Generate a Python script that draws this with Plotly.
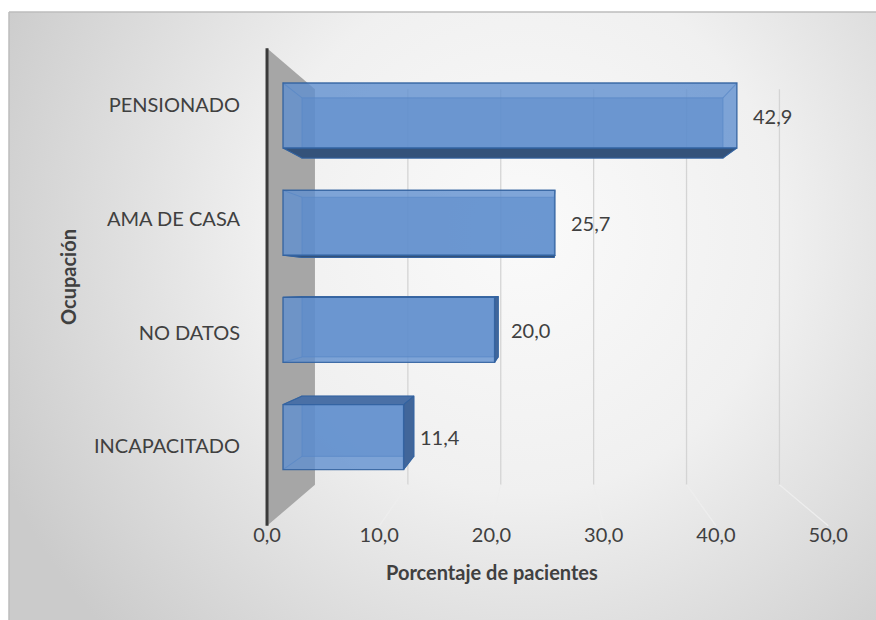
import base64
import plotly.graph_objects as go

# ---- data -------------------------------------------------------------
categories = ["PENSIONADO", "AMA DE CASA", "NO DATOS", "INCAPACITADO"]
values = [42.9, 25.7, 20.0, 11.4]
x_ticks = [0, 10, 20, 30, 40, 50]
x_title = "Porcentaje de pacientes"
y_title = "Ocupación"

# ---- canvas / 3-D look geometry --------------------------------------
W, H = 876, 620
FONT = "Lato"
TXT = "#404040"

# front plane of the bars: pixel mapping of the main (hidden) axes
X0_PX, X_SCALE = 283.0, 10.58
Y0_PX, Y_SCALE = 115.5, 107.2
VP_PX = (545.0, 287.0)           # vanishing point of the perspective
VX = (VP_PX[0] - X0_PX) / X_SCALE
VY = (VP_PX[1] - Y0_PX) / Y_SCALE

S_EDGE = 1.061    # front edge of floor / side wall
S_BACK = 0.9275   # back face of the bars
S_WALL = 0.878    # back wall
BAR_H = 0.606
WALL_TOP, WALL_BOT = -0.5, 3.7
X_MAX = x_ticks[-1]


def proj(x, y, s):
    return VX + s * (x - VX), VY + s * (y - VY)


def to_px(x, y):
    return X0_PX + X_SCALE * x, Y0_PX + Y_SCALE * y


def path(pts):
    return "M " + " L ".join(f"{x:.4f},{y:.4f}" for x, y in pts) + " Z"


def px2paper_x(px):
    return px / W


def px2paper_y(py):
    return 1 - py / H


shapes = []

# white page outside the chart area
shapes.append(dict(type="rect", xref="paper", yref="paper", x0=0, x1=1,
                   y0=px2paper_y(12), y1=1.01, fillcolor="white", line=dict(width=0),
                   layer="below"))
shapes.append(dict(type="rect", xref="paper", yref="paper", x0=-0.01, x1=px2paper_x(9),
                   y0=-0.01, y1=1, fillcolor="white", line=dict(width=0), layer="below"))

# chart-area frame
shapes.append(dict(type="line", xref="paper", yref="paper",
                   x0=px2paper_x(9), y0=px2paper_y(12), x1=1, y1=px2paper_y(12),
                   line=dict(color="#bdbdbd", width=1.5), layer="below"))
shapes.append(dict(type="line", xref="paper", yref="paper",
                   x0=px2paper_x(9), y0=px2paper_y(12), x1=px2paper_x(9), y1=0,
                   line=dict(color="#bdbdbd", width=1.5), layer="below"))

# side wall
wall = [proj(0, WALL_TOP, S_EDGE), proj(0, WALL_TOP, S_WALL),
        proj(0, WALL_BOT, S_WALL), proj(0, WALL_BOT, S_EDGE)]
shapes.append(dict(type="path", xref="x", yref="y", path=path(wall),
                   fillcolor="#a6a6a6", line=dict(width=0), layer="below"))

# back-wall and floor gridlines
for t in x_ticks[1:]:
    a = proj(t, WALL_TOP, S_WALL)
    b = proj(t, WALL_BOT, S_WALL)
    c = proj(t, WALL_BOT, S_EDGE)
    shapes.append(dict(type="line", xref="x", yref="y", x0=a[0], y0=a[1], x1=b[0], y1=b[1],
                       line=dict(color="#d4d4d4", width=1.3), layer="below"))
    shapes.append(dict(type="line", xref="x", yref="y", x0=b[0], y0=b[1], x1=c[0], y1=c[1],
                       line=dict(color="#eeeeee", width=1.3), layer="below"))

# front edge of the side wall
a = proj(0, WALL_TOP, S_EDGE)
b = proj(0, WALL_BOT, S_EDGE)
shapes.append(dict(type="line", xref="x", yref="y", x0=a[0], y0=a[1], x1=b[0], y1=b[1],
                   line=dict(color="#3a3a3a", width=3), layer="below"))

EDGE = "rgba(50,98,160,0.9)"
positions = list(range(len(categories)))

# depth faces of each bar (front face is the bar trace itself)
for yi, v in zip(positions, values):
    yt, yb = yi - BAR_H / 2, yi + BAR_H / 2
    back = [proj(0, yt, S_BACK), proj(v, yt, S_BACK), proj(v, yb, S_BACK), proj(0, yb, S_BACK)]
    front = [(0, yt), (v, yt), (v, yb), (0, yb)]
    shapes.append(dict(type="path", xref="x", yref="y", path=path(back),
                       fillcolor="rgba(72,120,182,0.55)",
                       line=dict(color="rgba(50,98,160,0.6)", width=1.2), layer="below"))
    if yb < VY:   # underside visible
        shapes.append(dict(type="path", xref="x", yref="y",
                           path=path([front[3], front[2], back[2], back[3]]),
                           fillcolor="#34527a", line=dict(color=EDGE, width=1), layer="below"))
    if yt > VY:   # top visible
        shapes.append(dict(type="path", xref="x", yref="y",
                           path=path([front[0], front[1], back[1], back[0]]),
                           fillcolor="#4a70a6", line=dict(color=EDGE, width=1), layer="below"))
    if v < VX:    # right end visible
        shapes.append(dict(type="path", xref="x", yref="y",
                           path=path([front[1], back[1], back[2], front[2]]),
                           fillcolor="#41669a", line=dict(color=EDGE, width=1), layer="below"))
    for f, bk in zip(front, back):
        shapes.append(dict(type="line", xref="x", yref="y", x0=f[0], y0=f[1], x1=bk[0], y1=bk[1],
                           line=dict(color="rgba(50,98,160,0.7)", width=1.1), layer="below"))

fig = go.Figure()
fig.add_trace(go.Bar(
    x=values, y=positions, orientation="h", width=BAR_H,
    marker=dict(color="rgba(96,144,208,0.8)", line=dict(color=EDGE, width=1.4)),
    hoverinfo="skip", showlegend=False,
))

# value labels
annotations = []
for yi, v in zip(positions, values):
    annotations.append(dict(x=v, y=yi, xref="x", yref="y", text=f"{v:.1f}".replace(".", ","),
                            showarrow=False, xanchor="left", yanchor="middle", xshift=14,
                            font=dict(family=FONT, size=20, color=TXT)))
annotations.append(dict(x=px2paper_x(68), y=px2paper_y(277), xref="paper", yref="paper",
                        text=f"<b>{y_title}</b>", textangle=-90, showarrow=False,
                        xanchor="center", yanchor="middle",
                        font=dict(family=FONT, size=20, color=TXT)))
annotations.append(dict(x=px2paper_x(492), y=px2paper_y(572), xref="paper", yref="paper",
                        text=f"<b>{x_title}</b>", showarrow=False,
                        xanchor="center", yanchor="middle",
                        font=dict(family=FONT, size=20, color=TXT)))

# tick-label axes sit on the front edge of the floor / wall
tx0 = to_px(*proj(0, 0, S_EDGE))[0]
tx1 = to_px(*proj(X_MAX, 0, S_EDGE))[0]
ly0 = to_px(*proj(0, -0.5, S_EDGE))[1]
ly1 = to_px(*proj(0, len(categories) - 0.5, S_EDGE))[1]
floor_py = to_px(*proj(0, WALL_BOT, S_EDGE))[1]

fig.add_trace(go.Scatter(x=[None], y=[None], xaxis="x2", yaxis="y2",
                         showlegend=False, hoverinfo="skip"))

svg = (
    '<svg xmlns="http://www.w3.org/2000/svg" width="900" height="620">'
    '<defs><radialGradient id="g" gradientUnits="userSpaceOnUse" cx="520" cy="220" r="580">'
    '<stop offset="0" stop-color="#fafafa"/><stop offset="0.45" stop-color="#f0f0f0"/>'
    '<stop offset="1" stop-color="#cbcbcb"/></radialGradient></defs>'
    '<rect width="900" height="620" fill="url(#g)"/></svg>'
)
bg_src = "data:image/svg+xml;base64," + base64.b64encode(svg.encode()).decode()

fig.update_layout(
    width=W, height=H,
    margin=dict(l=0, r=0, t=0, b=0, pad=0, autoexpand=False),
    paper_bgcolor="#d6d6d6",
    plot_bgcolor="rgba(0,0,0,0)",
    separators=",.",
    showlegend=False,
    xaxis=dict(domain=[0, 1], range=[(0 - X0_PX) / X_SCALE, (W - X0_PX) / X_SCALE],
               visible=False, fixedrange=True, automargin=False),
    yaxis=dict(domain=[0, 1], range=[(H - Y0_PX) / Y_SCALE, (0 - Y0_PX) / Y_SCALE],
               visible=False, fixedrange=True, automargin=False),
    xaxis2=dict(domain=[px2paper_x(tx0), px2paper_x(tx1)], range=[0, X_MAX],
                anchor="free", position=px2paper_y(floor_py), automargin=False,
                tickvals=x_ticks, tickformat=".1f", showgrid=False, zeroline=False,
                showline=False, ticks="", ticklabelstandoff=-5,
                tickfont=dict(family=FONT, size=20, color=TXT)),
    yaxis2=dict(domain=[px2paper_y(ly1), px2paper_y(ly0)],
                range=[len(categories) - 0.5, -0.5], automargin=False,
                anchor="free", position=px2paper_x(tx0),
                tickvals=positions, ticktext=categories, showgrid=False, zeroline=False,
                showline=False, ticks="", ticklabelstandoff=27,
                tickfont=dict(family=FONT, size=20, color=TXT)),
    shapes=shapes,
    annotations=annotations,
    images=[dict(source=bg_src, xref="paper", yref="paper",
                 x=px2paper_x(9), y=px2paper_y(12),
                 sizex=(900 - 9) / W, sizey=(632 - 12) / H,
                 xanchor="left", yanchor="top", sizing="stretch", layer="below")],
)

fig.write_html("out.html")
